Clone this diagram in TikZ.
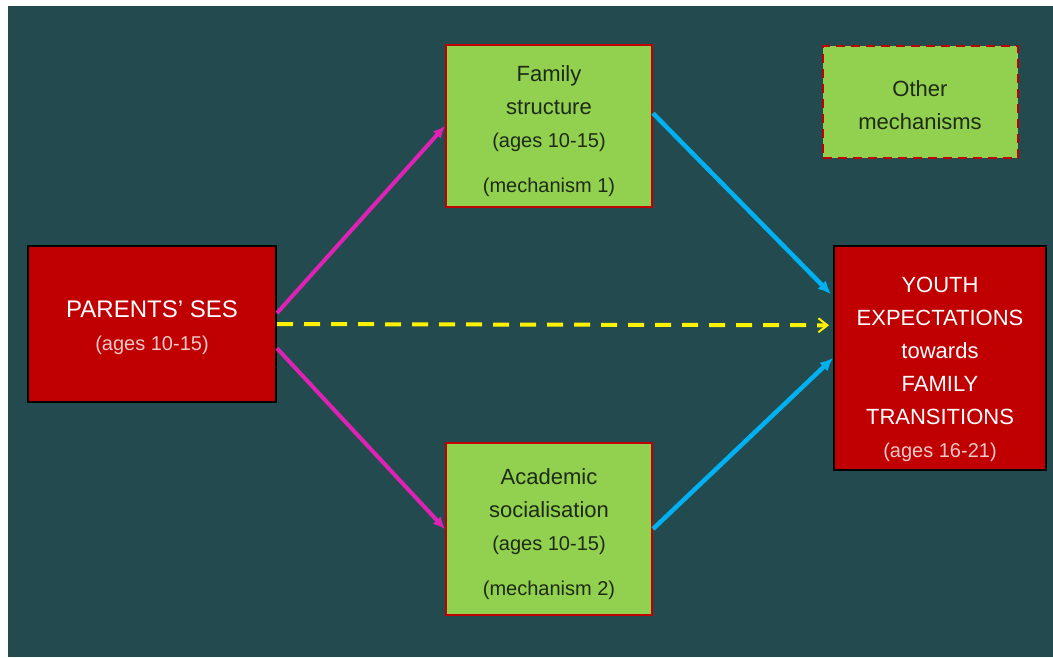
\documentclass[tikz,border=0pt]{standalone}
\usepackage{fontspec}
\setmainfont{Liberation Sans}
\usepackage{tikz}
\usetikzlibrary{arrows.meta,positioning,shapes}
\definecolor{bgteal}{HTML}{234B4F}
\definecolor{boxred}{HTML}{C00000}
\definecolor{boxgreen}{HTML}{92D050}
\definecolor{arrpink}{HTML}{DD22B4}
\definecolor{arrblue}{HTML}{00B0F0}
\definecolor{paletext}{HTML}{F2C8C8}
\definecolor{darktext}{HTML}{1E2A14}
\newcommand{\agesize}{\fontsize{20}{33}\selectfont}
\newcommand{\toplift}[1]{\rule{0pt}{#1}}
\tikzset{
	path pink/.style={-{Latex[length=12pt,width=11pt]},line width=4pt,draw=arrpink},
	path blue/.style={-{Latex[length=13pt,width=12pt]},line width=4.5pt,draw=arrblue},
	path yellow/.style={-{Straight Barb[length=9pt,width=14pt,line width=2pt]},line width=4pt,draw=yellow,dash pattern=on 16pt off 11pt}
}

\begin{document}
\begin{tikzpicture}[
		x=1pt, y=-1pt,
		redbox/.style = {rectangle, fill=boxred, draw=black, line width=2pt, text=white, align=center, inner sep=0pt, font=\fontsize{22}{33}\selectfont},
		greenbox/.style = {rectangle, fill=boxgreen, draw=boxred, line width=2pt, text=darktext, align=center, inner sep=0pt, font=\fontsize{22}{33}\selectfont},
	]
	\fill[bgteal] (8,6) rectangle (1053,657);
	\useasboundingbox (0,0) rectangle (1053,657);

	% boxes
	\node [redbox, minimum width=248pt, minimum height=156pt, font=\fontsize{24}{33}\selectfont] (ses) at (152,324)
		{\toplift{25pt}PARENTS' SES\\
		 \agesize\color{paletext}(ages 10-15)};
	\node [greenbox, minimum width=206pt, minimum height=162pt] (fam) at (549,126)
		{\toplift{26pt}Family\\
		 structure\\
		 \agesize (ages 10-15)\\[12pt]
		 \agesize (mechanism 1)};
	\node [greenbox, minimum width=206pt, minimum height=172pt] (acad) at (549,529)
		{\toplift{26pt}Academic\\
		 socialisation\\
		 \agesize (ages 10-15)\\[12pt]
		 \agesize (mechanism 2)};
	\node [redbox, minimum width=212pt, minimum height=224pt] (youth) at (940,358)
		{\toplift{38pt}YOUTH\\
		 EXPECTATIONS\\
		 towards\\
		 FAMILY\\
		 TRANSITIONS\\
		 \agesize\color{paletext}(ages 16-21)};
	\node [greenbox, draw=boxred, dash pattern=on 9pt off 6pt, minimum width=195pt, minimum height=112pt] (other) at (920,102)
		{\toplift{22pt}Other\\
		 mechanisms};

	% arrows
	\draw [path pink] (ses.5.5) -- (fam.west);
	\draw [path pink] (ses.-11.8) -- (acad.west);
	\draw [path blue, shorten >=3pt] (fam.7.2) -- (youth.150.5);
	\draw [path blue] (acad.east) -- (youth.west);
	\draw [path yellow, shorten >=4pt] (ses.east) -- (youth.163.2);
\end{tikzpicture}
\end{document}
